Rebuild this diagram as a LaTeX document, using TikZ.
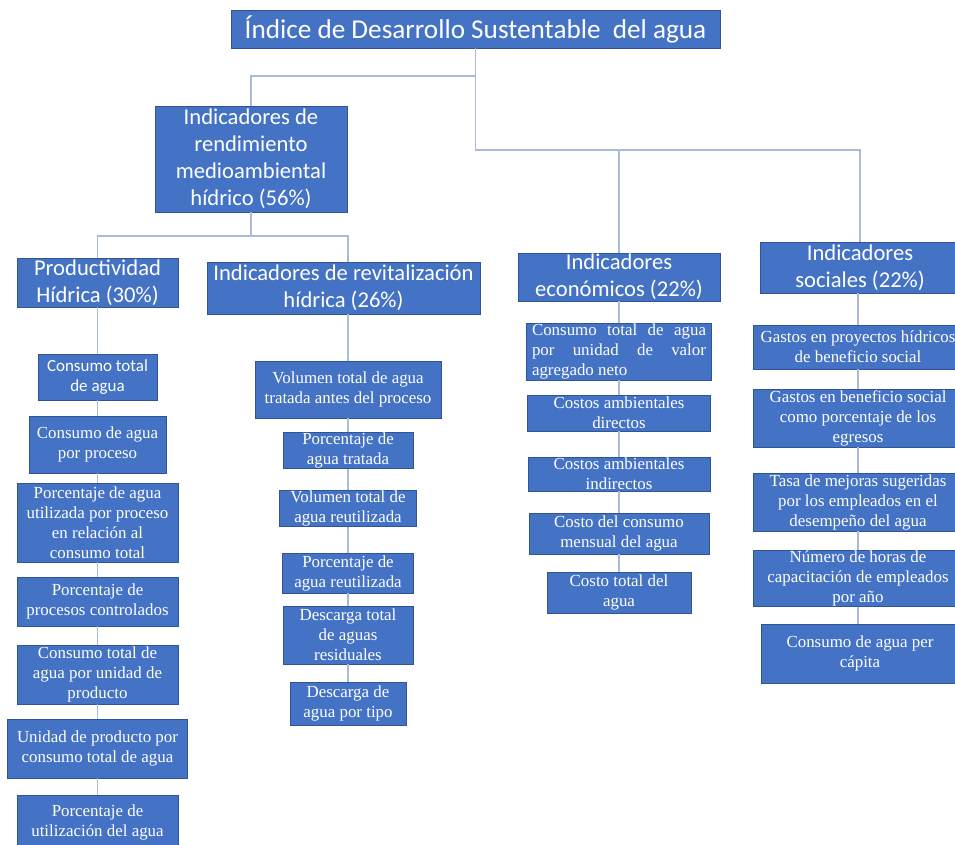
\documentclass[tikz,border=0pt]{standalone}
\usepackage{fontspec}
\setmainfont{Liberation Serif}
\newfontfamily\carlito{Carlito}
\newfontfamily\timesf{Liberation Serif}
\newcommand\titlefont{\carlito\fontsize{27.2}{31}\selectfont}
\newcommand\hdrfont{\carlito\fontsize{22.6}{27}\selectfont}
\newcommand\leafsans{\carlito\fontsize{17}{20.5}\selectfont}
\newcommand\leaffont{\timesf\fontsize{16.9}{20}\selectfont}
\definecolor{boxblue}{HTML}{4472C4}
\definecolor{boxedge}{HTML}{2F5597}
\definecolor{linkc}{HTML}{A9BBD6}
\tikzset{
  box/.style={fill=boxblue, draw=boxedge, line width=0.8pt, text=white,
    align=center, inner sep=0pt},
  sz/.style 2 args={minimum width=#1pt, minimum height=#2pt},
  topbox/.style={box, font=\titlefont},
  hdr/.style={box, font=\hdrfont},
  leaf/.style={box, font=\leaffont},
  leafs/.style={box, font=\leafsans},
  link/.style={draw=linkc, line width=1.4pt},
}
\begin{document}
\begin{tikzpicture}[x=1pt, y=-1pt]
\useasboundingbox (0,0) rectangle (955,844);

% bus levels of the tree
\coordinate (busA) at (0,76);
\coordinate (busB) at (0,150);
\coordinate (busC) at (0,236);

% root and main branches
\node[topbox, sz={489}{38}] (title) at (475.5,29) {Índice de Desarrollo Sustentable\ \ del agua};
\node[hdr, sz={192}{106}] (l2) at (251,159) {Indicadores de\\rendimiento\\medioambiental\\hídrico (56\%)};
\node[hdr, sz={161}{49}] (prod) at (97.5,282.5) {Productividad\\Hídrica (30\%)};
\node[hdr, sz={273}{52}] (rev) at (343.5,288) {Indicadores de revitalización\\hídrica (26\%)};
\node[hdr, sz={202}{48}] (econ) at (619,277) {Indicadores\\económicos (22\%)};
\node[hdr, sz={200}{51}] (soc) at (860,267.5) {Indicadores\\sociales (22\%)};

% productividad hidrica
\node[leafs, sz={119}{46}] (c1) at (97.5,377) {Consumo total\\de agua};
\node[leaf, sz={137}{57}] (c2) at (97.5,444.5) {Consumo de agua\\por proceso};
\node[leaf, sz={161}{79}] (c3) at (97.5,522.5) {Porcentaje de agua\\utilizada por proceso\\en relación al\\consumo total};
\node[leaf, sz={161}{49}] (c4) at (97.5,601.5) {Porcentaje de\\procesos controlados};
\node[leaf, sz={161}{59}] (c5) at (97.5,674.5) {Consumo total de\\agua por unidad de\\producto};
\node[leaf, sz={180}{59}] (c6) at (97.5,748.5) {Unidad de producto por\\consumo total de agua};
\node[leaf, sz={161}{55}] (c7) at (97.5,822.5) {Porcentaje de\\utilización del agua};

% revitalizacion hidrica
\node[leaf, sz={186}{57}] (v1) at (348,389.5) {Volumen total de agua\\tratada antes del proceso};
\node[leaf, sz={130}{33}] (v2) at (348,450.5) {Porcentaje de\\agua tratada};
\node[leaf, sz={137}{35}] (v3) at (348,508.5) {Volumen total de\\agua reutilizada};
\node[leaf, sz={131}{40}] (v4) at (348,573) {Porcentaje de\\agua reutilizada};
\node[leaf, sz={130}{58}] (v5) at (348,635) {Descarga total\\de aguas\\residuales};
\node[leaf, sz={116}{43}] (v6) at (348,703.5) {Descarga de\\agua por tipo};

% indicadores economicos
\node[leaf, sz={185}{57}] (e1) at (619,351.5) {\parbox{174pt}{\raggedright
  Consumo\hfill total\hfill de\hfill agua\\por\hfill unidad\hfill de\hfill valor\\agregado neto}};
\node[leaf, sz={183}{36}] (e2) at (619,413) {Costos ambientales\\directos};
\node[leaf, sz={182}{34}] (e3) at (619,474) {Costos ambientales\\indirectos};
\node[leaf, sz={180}{41}] (e4) at (619,533.5) {Costo del consumo\\mensual del agua};
\node[leaf, sz={144}{41}] (e5) at (619,592.5) {Costo total del\\agua};

% indicadores sociales
\node[leaf, sz={210}{44}] (s1) at (858,347) {Gastos en proyectos hídricos\\de beneficio social};
\node[leaf, sz={210}{58}] (s2) at (858,418) {Gastos en beneficio social\\como porcentaje de los\\egresos};
\node[leaf, sz={210}{58}] (s3) at (858,502) {Tasa de mejoras sugeridas\\por los empleados en el\\desempeño del agua};
\node[leaf, sz={210}{55}] (s4) at (858,578.5) {Número de horas de\\capacitación de empleados\\por año};
\node[leaf, sz={198}{59}] (s5) at (860,653.5) {Consumo de agua per\\cápita};

% tree connectors
\draw[link] (title.south) -- (title.south |- busA) -| (l2.north);
\draw[link] (title.south |- busA) -- (title.south |- busB) -| (econ.north);
\draw[link] (title.south |- busB) -| (soc.north);
\draw[link] (l2.south) -- (l2.south |- busC) -| (prod.north);
\draw[link] (l2.south |- busC) -| (rev.north -| v1.north);

% column connectors
\draw[link] (prod.south) -- (c1.north);
\draw[link] (c1.south) -- (c2.north);
\draw[link] (c2.south) -- (c3.north);
\draw[link] (c3.south) -- (c4.north);
\draw[link] (c4.south) -- (c5.north);
\draw[link] (c5.south) -- (c6.north);
\draw[link] (c6.south) -- (c7.north);

\draw[link] (rev.south -| v1.north) -- (v1.north);
\draw[link] (v1.south) -- (v2.north);
\draw[link] (v2.south) -- (v3.north);
\draw[link] (v3.south) -- (v4.north);
\draw[link] (v4.south) -- (v5.north);
\draw[link] (v5.south) -- (v6.north);

\draw[link] (econ.south) -- (e1.north);
\draw[link] (e1.south) -- (e2.north);
\draw[link] (e2.south) -- (e3.north);
\draw[link] (e3.south) -- (e4.north);
\draw[link] (e4.south) -- (e5.north);

\draw[link] (soc.south -| s1.north) -- (s1.north);
\draw[link] (s1.south) -- (s2.north);
\draw[link] (s2.south) -- (s3.north);
\draw[link] (s3.south) -- (s4.north);
\draw[link] (s4.south) -- (s4.south |- s5.north);
\end{tikzpicture}
\end{document}
